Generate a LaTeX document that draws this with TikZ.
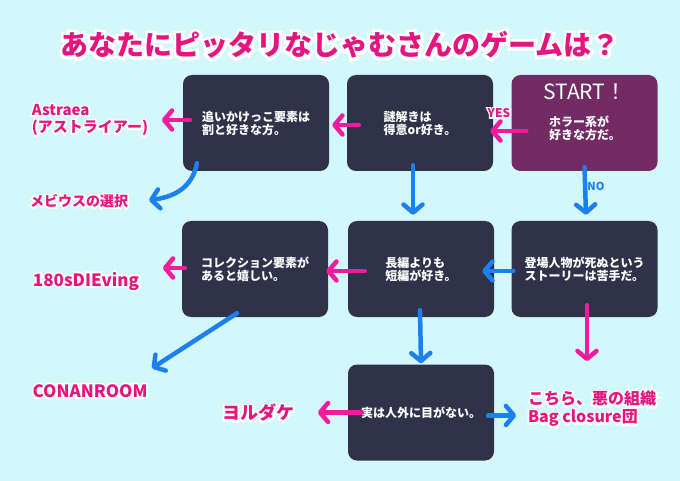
\documentclass[tikz,border=0pt]{standalone}
\usepackage{fontspec}
\newfontfamily\jp{Noto Sans CJK JP}
\newfontfamily\jpo{Noto Sans CJK JP}[UprightFeatures={FakeBold=22},BoldFeatures={FakeBold=22}]
\usetikzlibrary{arrows.meta}
\definecolor{bgc}{HTML}{D3F8FC}
\definecolor{boxc}{HTML}{30324A}
\definecolor{startc}{HTML}{732B64}
\definecolor{apink}{HTML}{F21A9E}
\definecolor{lpink}{HTML}{E4157F}
\definecolor{ablue}{HTML}{1C80F0}
% #1 size, #2 name, #3 position, #4 text
\newcommand\outlined[4]{%
  \node[lbl,text=white,font=\jpo\bfseries#1] at (#3) {#4};
  \node[lbl,font=\jp\bfseries#1] (#2) at (#3) {#4};
}
\begin{document}
\begin{tikzpicture}[x=1pt,y=-1pt,
  box/.style={fill=boxc, rounded corners=9pt, minimum width=146pt, minimum height=96pt,
    inner sep=0pt, text=white, align=left, font=\jp\bfseries\fontsize{12}{13}\selectfont},
  lbl/.style={text=lpink, inner sep=0pt, align=left},
  arr/.style={line width=4.5pt, line cap=round, line join=round, -{Straight Barb[round,length=8pt,width=19pt]}},
  parr/.style={arr, draw=apink},
  barr/.style={arr, draw=ablue}]
\fill[bgc] (0,0) rectangle (680,481);
\useasboundingbox (0,0) rectangle (680,481);
% title
\outlined{\fontsize{28}{30}\selectfont}{title}{340,45}{あなたにピッタリなじゃむさんのゲームは？}
% boxes
\node[box] (A) at (256,123) {追いかけっこ要素は\\割と好きな方。};
\node[box] (B) at (420,123) {謎解きは\\得意or好き。};
\node[box, fill=startc] (S) at (584.5,123) {};
\node[text=white, font=\jp\fontsize{21}{22}\selectfont, inner sep=0pt] (st) at (585,92) {START！};
\node[text=white, align=left, font=\jp\bfseries\fontsize{12}{13}\selectfont, inner sep=0pt] (sq) at (585,128) {ホラー系が\\好きな方だ。};
\node[box] (C) at (255,269) {コレクション要素が\\あると嬉しい。};
\node[box] (D) at (421,269) {長編よりも\\短編が好き。};
\node[box] (E) at (584.5,269) {登場人物が死ぬという\\ストーリーは苦手だ。};
\node[box] (F) at (421,412.5) {実は人外に目がない。};
% result labels
\outlined{\fontsize{15}{17}\selectfont}{astraea}{90,120}{Astraea\\(アストライアー)}
\outlined{\fontsize{14}{15}\selectfont}{mebius}{79,201}{メビウスの選択}
\outlined{\fontsize{17}{18}\selectfont}{s180}{86,281}{180sDIEving}
\outlined{\fontsize{17}{18}\selectfont}{conan}{90,391}{CONANROOM}
\outlined{\fontsize{18}{19}\selectfont}{yoru}{258,413}{ヨルダケ}
\outlined{\fontsize{16}{18}\selectfont}{bag}{592,409}{こちら、悪の組織\\Bag closure団}
\outlined{\fontsize{12}{13}\selectfont}{yes}{499,113}{YES}
\node[text=ablue, font=\jp\bfseries\fontsize{11}{12}\selectfont, inner sep=0pt] (no) at (596,186) {NO};
% connectors
\draw[parr] ([xshift=15pt,yshift=-8pt]S.west) -- ([xshift=-3pt,yshift=-8pt]B.east);
\draw[barr] ([yshift=4pt]S.south) -- ([xshift=1.5pt,yshift=6pt]E.north);
\draw[parr] ([xshift=12pt,yshift=-2pt]B.west) -- ([xshift=3pt,yshift=-2pt]A.east);
\draw[parr] ([xshift=7pt,yshift=3pt]A.west) -- ([xshift=-21pt,yshift=3pt]A.west);
\draw[barr] ([xshift=-59pt,yshift=8pt]A.south) .. controls ([xshift=-64pt,yshift=-18pt]A.south) and ([xshift=-84pt,yshift=-26pt]A.south) .. ([xshift=-107pt,yshift=-29pt]A.south);
\draw[barr] ([xshift=-7pt,yshift=6pt]B.south) -- ([xshift=-8pt,yshift=6pt]D.north);
\draw[barr] ([xshift=2pt,yshift=-2pt]E.west) -- ([xshift=-12pt,yshift=-2pt]D.east);
\draw[parr] ([xshift=17pt,yshift=-2pt]D.west) -- ([xshift=-2pt,yshift=-2pt]C.east);
\draw[parr] ([xshift=3pt,yshift=1pt]C.west) -- ([xshift=-19pt,yshift=1pt]C.west);
\draw[barr] ([xshift=-18pt,yshift=4pt]C.south) -- ([xshift=-103pt,yshift=-51pt]C.south);
\draw[barr] ([xshift=-1pt,yshift=7pt]D.south) -- ([yshift=1pt]F.north);
\draw[parr] ([xshift=2.5pt,yshift=12pt]E.south) -- ([xshift=2.5pt,yshift=-44pt]E.south);
\draw[parr] ([xshift=14pt]F.west) -- ([xshift=-30pt]F.west);
\draw[barr] ([xshift=-6pt,yshift=-3pt]F.east) -- ([xshift=22pt,yshift=-3pt]F.east);
\end{tikzpicture}
\end{document}
